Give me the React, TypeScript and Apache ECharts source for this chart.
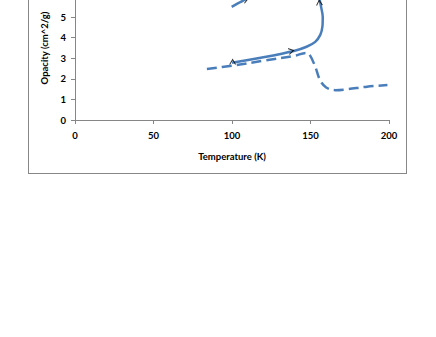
import React, { useEffect, useRef } from "react";
import * as echarts from "echarts";

const xTicks = [0, 50, 100, 150, 200];
const yTicks = [0, 1, 2, 3, 4, 5, 6, 7];

// Dashed curve (temperature K, opacity cm^2/g)
const dashedX = [84, 100, 120, 140, 147, 149, 153, 156, 160, 166, 173, 186, 199];
const dashedY = [2.48, 2.64, 2.88, 3.12, 3.26, 3.22, 2.6, 1.95, 1.58, 1.45, 1.49, 1.62, 1.7];

// Solid curve (heating path)
const solidX = [100, 120, 140, 147.5, 153, 156.3, 157.6, 157.8, 156.6, 155.8];
const solidY = [2.78, 3.05, 3.37, 3.56, 3.8, 4.15, 4.55, 5.0, 5.55, 5.85];

// Upper solid segment
const upperX = [99.8, 104, 109];
const upperY = [5.5, 5.68, 5.88];

// Arrow heads: position and direction (degrees, ECharts rotation)
const arrowX = [100.4, 138, 155.6, 109];
const arrowY = [2.84, 3.36, 5.72, 5.86];
const arrowRot = [0, -78, 4, -68];

const zip = (xs: number[], ys: number[]) => xs.map((x, i) => [x, ys[i]]);

const chevron = "path://M0,10 L5,0 L10,10 L8.4,10 L5,3.4 L1.6,10 Z";
const FONT = "Lato";

export default function App() {
  const ref = useRef<HTMLDivElement>(null);
  useEffect(() => {
    if (!ref.current) return;
    const chart = echarts.init(ref.current, undefined, { renderer: "svg" });
    chart.setOption({
      animation: false,
      backgroundColor: "#ffffff",
      grid: { left: 46, right: 17, top: 7, bottom: 53, containLabel: false },
      xAxis: {
        type: "value",
        min: xTicks[0],
        max: xTicks[xTicks.length - 1],
        interval: 50,
        name: "Temperature (K)",
        nameLocation: "middle",
        nameGap: 31,
        nameTextStyle: { fontFamily: FONT, fontWeight: "bold", fontSize: 9.5, color: "#000" },
        axisLine: { show: true, lineStyle: { color: "#868686", width: 1 } },
        axisTick: { show: true, length: 4, lineStyle: { color: "#868686" } },
        axisLabel: { fontFamily: FONT, fontWeight: "bold", fontSize: 9.5, color: "#000", margin: 10 },
        splitLine: { show: false },
      },
      yAxis: {
        type: "value",
        min: yTicks[0],
        max: yTicks[yTicks.length - 1],
        interval: 1,
        name: "Opacity (cm^2/g)",
        nameLocation: "middle",
        nameGap: 24,
        nameTextStyle: { fontFamily: FONT, fontWeight: "bold", fontSize: 9.5, color: "#000" },
        axisLine: { show: true, lineStyle: { color: "#868686", width: 1 } },
        axisTick: { show: true, length: 4, lineStyle: { color: "#868686" } },
        axisLabel: {
          fontFamily: FONT,
          fontWeight: "bold",
          fontSize: 9.5,
          color: "#000",
          margin: 9,
          formatter: (v: number) => (v > 5 ? "" : String(v)),
        },
        splitLine: { show: false },
      },
      series: [
        {
          type: "line",
          data: zip(dashedX, dashedY),
          smooth: 0.35,
          symbol: "none",
          lineStyle: { color: "#4A7EBB", width: 2.5, type: [10, 5] },
        },
        {
          type: "line",
          data: zip(solidX, solidY),
          smooth: 0.3,
          symbol: "none",
          lineStyle: { color: "#4A7EBB", width: 2.5 },
        },
        {
          type: "line",
          data: zip(upperX, upperY),
          smooth: 0.3,
          symbol: "none",
          lineStyle: { color: "#4A7EBB", width: 2.5 },
        },
        {
          type: "scatter",
          data: arrowX.map((x, i) => ({
            value: [x, arrowY[i]],
            symbolRotate: arrowRot[i],
          })),
          symbol: chevron,
          symbolSize: [7, 6],
          itemStyle: { color: "#000" },
          z: 5,
        },
      ],
    });
    return () => chart.dispose();
  }, []);
  return (
    <div
      style={{
        position: "absolute",
        left: 28,
        top: -32,
        width: 379,
        height: 206,
        boxSizing: "border-box",
        border: "1px solid #888888",
        background: "#fff",
      }}
    >
      <div ref={ref} style={{ width: 377, height: 204 }} />
    </div>
  );
}
